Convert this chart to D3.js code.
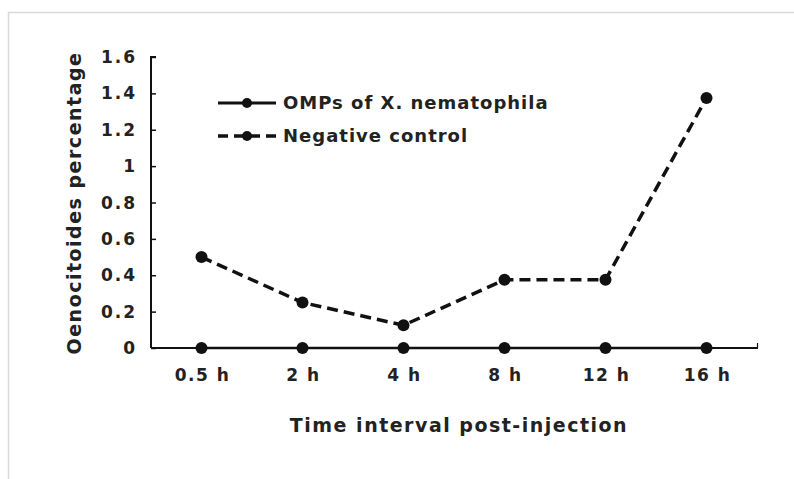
<!DOCTYPE html>
<html>
<head>
<meta charset="utf-8">
<script src="https://cdn.jsdelivr.net/npm/d3@7"></script>
<style>
  body { margin: 0; background: #fff; }
  text { font-family: "DejaVu Sans", Verdana, sans-serif; font-weight: bold; fill: #222; }
</style>
</head>
<body>
<script>
// data
const times = ["0.5 h", "2 h", "4 h", "8 h", "12 h", "16 h"];
const omps = [0, 0, 0, 0, 0, 0];
const negative = [0.5, 0.25, 0.125, 0.375, 0.375, 1.375];
const yTicks = [0, 0.2, 0.4, 0.6, 0.8, 1, 1.2, 1.4, 1.6];
const seriesNames = ["OMPs of X. nematophila", "Negative control"];

const W = 794, H = 479;
const svg = d3.select("body").append("svg")
    .attr("width", W)
    .attr("height", H);

// light frame round the figure
svg.append("rect")
    .attr("x", 8.5).attr("y", 12.5)
    .attr("width", W).attr("height", H)
    .attr("fill", "none")
    .attr("stroke", "#d9d9d9")
    .attr("stroke-width", 1.5);

const x = d3.scaleBand().domain(times).range([151, 757]);
const y = d3.scaleLinear().domain([0, 1.6]).range([348, 57]);

// y axis, ticks pointing inward
const yAxis = svg.append("g")
    .attr("transform", "translate(151,0)")
    .call(d3.axisRight(y).tickValues(yTicks).tickSize(5).tickFormat(""));
yAxis.select(".domain").attr("stroke", "#111").attr("stroke-width", 2).attr("d", "M5,57H0V348");
yAxis.selectAll(".tick line").attr("stroke", "#111").attr("stroke-width", 1.5);

svg.selectAll(".ylab")
    .data(yTicks)
    .enter()
    .append("text")
    .attr("class", "ylab")
    .attr("x", 137)
    .attr("y", d => y(d))
    .attr("dy", "0.36em")
    .attr("text-anchor", "end")
    .style("font-size", "17px")
    .style("letter-spacing", "2px")
    .text(d => d3.format("")(d));

// x axis line
svg.append("line")
    .attr("x1", 151).attr("x2", 758)
    .attr("y1", y(0)).attr("y2", y(0))
    .attr("stroke", "#111").attr("stroke-width", 2);
svg.append("line")
    .attr("x1", 757.5).attr("x2", 757.5)
    .attr("y1", y(0) - 5).attr("y2", y(0))
    .attr("stroke", "#111").attr("stroke-width", 1.2);

svg.selectAll(".xlab")
    .data(times)
    .enter()
    .append("text")
    .attr("class", "xlab")
    .attr("x", d => x(d) + x.bandwidth() / 2 + 1)
    .attr("y", 381)
    .attr("text-anchor", "middle")
    .style("font-size", "17px")
    .style("letter-spacing", "1.5px")
    .text(d => d);

// axis titles
svg.append("text")
    .attr("x", 459)
    .attr("y", 432)
    .attr("text-anchor", "middle")
    .style("font-size", "19px")
    .style("letter-spacing", "1.5px")
    .text("Time interval post-injection");

svg.append("text")
    .attr("transform", "translate(81,203) rotate(-90)")
    .attr("text-anchor", "middle")
    .style("font-size", "19px")
    .style("letter-spacing", "1.5px")
    .text("Oenocitoides percentage");

// lines
const line = d3.line()
    .x((d, i) => x(times[i]) + x.bandwidth() / 2)
    .y(d => y(d));

svg.append("path")
    .datum(negative)
    .attr("d", line)
    .attr("fill", "none")
    .attr("stroke", "#111")
    .attr("stroke-width", 3.5)
    .attr("stroke-dasharray", "11,6");

svg.append("path")
    .datum(omps)
    .attr("d", line)
    .attr("fill", "none")
    .attr("stroke", "#111")
    .attr("stroke-width", 2.5);

[negative, omps].forEach(s => {
    svg.append("g").selectAll("circle")
        .data(s)
        .enter()
        .append("circle")
        .attr("cx", (d, i) => x(times[i]) + x.bandwidth() / 2)
        .attr("cy", d => y(d))
        .attr("r", 6)
        .attr("fill", "#111");
});

// legend
const legend = svg.append("g");
seriesNames.forEach((name, i) => {
    const ly = 103 + i * 33;
    legend.append("line")
        .attr("x1", 218).attr("x2", 276)
        .attr("y1", ly).attr("y2", ly)
        .attr("stroke", "#111")
        .attr("stroke-width", i === 0 ? 3 : 3.5)
        .attr("stroke-dasharray", i === 0 ? null : "10,6");
    legend.append("circle")
        .attr("cx", 247).attr("cy", ly).attr("r", 5)
        .attr("fill", "#111");
    legend.append("text")
        .attr("x", 283).attr("y", ly)
        .attr("dy", "0.36em")
        .style("font-size", "18px")
        .style("letter-spacing", "1px")
        .text(name);
});
</script>
</body>
</html>
